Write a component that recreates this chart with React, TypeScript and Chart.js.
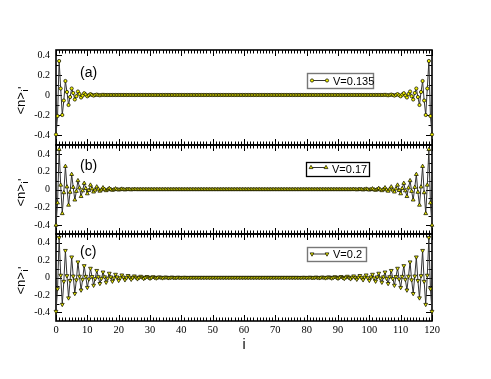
import React, { useEffect, useRef } from "react";
import { Chart, registerables } from "chart.js";
import { drawPoint } from "chart.js/helpers";

Chart.register(...registerables);

const W = 491;
const H = 379;

// ---- data ----
const siteStep = 0.5;
const xTickValues = [0, 10, 20, 30, 40, 50, 60, 70, 80, 90, 100, 110, 120];
const yTickValues = [-0.4, -0.2, 0, 0.2, 0.4];
const yMinorValues = [-0.3, -0.1, 0.1, 0.3];
const panelLabels = ["(a)", "(b)", "(c)"];
const seriesNames = ["V=0.135", "V=0.17", "V=0.2"];
const xAxisLabel = "i";

const valuesA = [
  -0.395, -0.21, 0.34, 0.065, -0.2, -0.055, 0.14, 0.03, -0.1, -0.02,
  0.065, 0.02, -0.045, -0.012, 0.035, 0.01, -0.025, -0.006, 0.018, 0.004,
  -0.013, -0.002, 0.009, 0.001, -0.006, 0, 0.004, 0, -0.003, 0,
  0.002, 0, 0, 0, 0, 0, 0, 0, 0, 0,
  0, 0, 0, 0, 0, 0, 0, 0, 0, 0, 0, 0, 0, 0, 0, 0, 0, 0, 0, 0,
  0, 0, 0, 0, 0, 0, 0, 0, 0, 0, 0, 0, 0, 0, 0, 0, 0, 0, 0, 0,
  0, 0, 0, 0, 0, 0, 0, 0, 0, 0, 0, 0, 0, 0, 0, 0, 0, 0, 0, 0,
  0, 0, 0, 0, 0, 0, 0, 0, 0, 0, 0, 0, 0, 0, 0, 0, 0, 0, 0, 0,
  0, 0, 0, 0, 0, 0, 0, 0, 0, 0, 0, 0, 0, 0, 0, 0, 0, 0, 0, 0,
  0, 0, 0, 0, 0, 0, 0, 0, 0, 0, 0, 0, 0, 0, 0, 0, 0, 0, 0, 0,
  0, 0, 0, 0, 0, 0, 0, 0, 0, 0, 0, 0, 0, 0, 0, 0, 0, 0, 0, 0,
  0, 0, 0, 0, 0, 0, 0, 0, 0, 0, 0, 0, 0, 0, 0, 0, 0, 0, 0, 0,
  0, 0, 0, 0, 0, 0, 0, 0, 0, 0,
  0.002, 0, -0.003, 0, 0.004, 0, -0.006, 0.001, 0.009, -0.002,
  -0.013, 0.004, 0.018, -0.006, -0.025, 0.01, 0.035, -0.012, -0.045, 0.02,
  0.065, -0.02, -0.1, 0.03, 0.14, -0.055, -0.2, 0.065, 0.34, -0.21,
  -0.395,
];

const valuesB = [
  -0.4, -0.15, 0.45, 0.05, -0.27, -0.035, 0.26, 0.03, -0.175, -0.03,
  0.17, 0.025, -0.117, -0.02, 0.1, 0.018, -0.078, -0.014, 0.07, 0.012,
  -0.047, -0.01, 0.05, 0.008, -0.027, -0.006, 0.03, 0.005, -0.018, -0.004,
  0.02, 0.003, -0.012, -0.002, 0.013, 0.002, -0.008, -0.001, 0.008, 0.001,
  -0.005, 0, 0.005, 0, -0.003, 0, 0.003, 0, -0.002, 0,
  0.002, 0, 0, 0, 0, 0, 0, 0, 0, 0,
  0, 0, 0, 0, 0, 0, 0, 0, 0, 0, 0, 0, 0, 0, 0, 0, 0, 0, 0, 0,
  0, 0, 0, 0, 0, 0, 0, 0, 0, 0, 0, 0, 0, 0, 0, 0, 0, 0, 0, 0,
  0, 0, 0, 0, 0, 0, 0, 0, 0, 0, 0, 0, 0, 0, 0, 0, 0, 0, 0, 0,
  0, 0, 0, 0, 0, 0, 0, 0, 0, 0, 0, 0, 0, 0, 0, 0, 0, 0, 0, 0,
  0, 0, 0, 0, 0, 0, 0, 0, 0, 0, 0, 0, 0, 0, 0, 0, 0, 0, 0, 0,
  0, 0, 0, 0, 0, 0, 0, 0, 0, 0, 0, 0, 0, 0, 0, 0, 0, 0, 0, 0,
  0, 0, 0, 0, 0, 0, 0, 0, 0, 0,
  0.002, 0, -0.002, 0, 0.003, 0, -0.003, 0, 0.005, 0,
  -0.005, 0.001, 0.008, -0.001, -0.008, 0.002, 0.013, -0.002, -0.012, 0.003,
  0.02, -0.004, -0.018, 0.005, 0.03, -0.006, -0.027, 0.008, 0.05, -0.01,
  -0.047, 0.012, 0.07, -0.014, -0.078, 0.018, 0.1, -0.02, -0.117, 0.025,
  0.17, -0.03, -0.175, 0.03, 0.26, -0.035, -0.27, 0.05, 0.45, -0.15,
  -0.4,
];

const valuesC = [
  -0.39, -0.13, 0.46, 0.025, -0.31, -0.045, 0.31, 0.02, -0.235, -0.035,
  0.235, 0.016, -0.185, -0.028, 0.178, 0.014, -0.145, -0.022, 0.135, 0.012,
  -0.115, -0.018, 0.105, 0.01, -0.09, -0.014, 0.08, 0.008, -0.07, -0.011,
  0.062, 0.007, -0.055, -0.009, 0.048, 0.006, -0.043, -0.007, 0.036, 0.005,
  -0.034, -0.005, 0.028, 0.004, -0.027, -0.004, 0.022, 0.003, -0.021, -0.003,
  0.017, 0.002, -0.016, -0.002, 0.013, 0.002, -0.012, -0.001, 0.01, 0.001,
  -0.009, 0, 0.008, 0, -0.007, 0, 0.006, 0, -0.005, 0,
  0.004, 0, -0.004, 0, 0.003, 0, -0.003, 0, 0.002, 0,
  -0.002, 0, 0.001, 0, -0.001, 0, 0, 0, 0, 0,
  0, 0, 0, 0, 0, 0, 0, 0, 0, 0, 0, 0, 0, 0, 0, 0, 0, 0, 0, 0,
  0, 0, 0, 0, 0, 0, 0, 0, 0, 0, 0, 0, 0, 0, 0, 0, 0, 0, 0, 0,
  0, 0, 0, 0, 0, 0, 0, 0, 0, 0, 0, 0, 0, 0, 0, 0, 0, 0, 0, 0,
  0, 0, 0, 0, 0, 0, -0.001, 0, 0.001, 0,
  -0.002, 0, 0.002, 0, -0.003, 0, 0.003, 0, -0.004, 0,
  0.004, 0, -0.005, 0, 0.006, 0, -0.007, 0, 0.008, 0,
  -0.009, 0.001, 0.01, -0.001, -0.012, 0.002, 0.013, -0.002, -0.016, 0.002,
  0.017, -0.003, -0.021, 0.003, 0.022, -0.004, -0.027, 0.004, 0.028, -0.005,
  -0.034, 0.005, 0.036, -0.007, -0.043, 0.006, 0.048, -0.009, -0.055, 0.007,
  0.062, -0.011, -0.07, 0.008, 0.08, -0.014, -0.09, 0.01, 0.105, -0.018,
  -0.115, 0.012, 0.135, -0.022, -0.145, 0.014, 0.178, -0.028, -0.185, 0.016,
  0.235, -0.035, -0.235, 0.02, 0.31, -0.045, -0.31, 0.025, 0.46, -0.13,
  -0.39,
];

// ---- layout / style ----
const plotLeft = 56;
const plotRight = 432;
const xMax = 120;
const xMinorStep = 1;
const majorLen = 6;
const minorLen = 3.5;
const lineColor = "#333";
const markerFill = "#f2f200";
const markerEdge = "#1a1a00";
const sans = '"Liberation Sans", Arial, sans-serif';
const serif = "Liberation Serif";

const panels = [
  {
    values: valuesA, name: seriesNames[0], label: panelLabels[0],
    top: 50, bottom: 145, yMin: -0.5, yMax: 0.45,
    pointStyle: "circle", rotation: 0, radius: 1.6,
    labelX: 80, labelY: 77,
    legend: { x: 307, y: 73, w: 66, h: 15, color: "#777", width: 1.4, lineDy: 7.5 },
  },
  {
    values: valuesB, name: seriesNames[1], label: panelLabels[1],
    top: 145, bottom: 234, yMin: -0.5, yMax: 0.5,
    pointStyle: "triangle", rotation: 0, radius: 2.2,
    labelX: 80, labelY: 170,
    legend: { x: 306, y: 162, w: 63, h: 14, color: "#000", width: 1.3, lineDy: 5.5 },
  },
  {
    values: valuesC, name: seriesNames[2], label: panelLabels[2],
    top: 234, bottom: 321, yMin: -0.5, yMax: 0.5,
    pointStyle: "triangle", rotation: 180, radius: 2.2,
    labelX: 80, labelY: 256,
    legend: { x: 307, y: 247, w: 59, h: 14, color: "#777", width: 1.4, lineDy: 7 },
  },
];

function makeDecor(p: any, isBottom: boolean) {
  return {
    id: "decor",
    beforeDatasetsDraw(chart: any) {
      const { ctx, chartArea: a } = chart;
      const xs = chart.scales.x;
      const ys = chart.scales.y;
      ctx.save();
      ctx.strokeStyle = "#000";
      ctx.lineWidth = 1;
      ctx.beginPath();
      for (let v = 0; v <= xMax; v += xMinorStep) {
        const px = Math.round(xs.getPixelForValue(v)) + 0.5;
        const len = xTickValues.includes(v) ? majorLen : minorLen;
        ctx.moveTo(px, a.top);
        ctx.lineTo(px, a.top + len);
        ctx.moveTo(px, a.bottom);
        ctx.lineTo(px, a.bottom - len);
      }
      const yAll: [number, number][] = [
        ...yTickValues.map((v) => [v, majorLen] as [number, number]),
        ...yMinorValues.map((v) => [v, minorLen] as [number, number]),
      ];
      for (const [v, len] of yAll) {
        if (v <= p.yMin || v >= p.yMax) continue;
        const py = Math.round(ys.getPixelForValue(v)) + 0.5;
        ctx.moveTo(a.left, py);
        ctx.lineTo(a.left + len, py);
        ctx.moveTo(a.right, py);
        ctx.lineTo(a.right - len, py);
      }
      ctx.stroke();
      ctx.lineWidth = 1.6;
      ctx.strokeRect(a.left, a.top, a.right - a.left, a.bottom - a.top);
      ctx.restore();
    },
    afterDraw(chart: any) {
      const { ctx, chartArea: a } = chart;
      ctx.save();
      // panel label
      ctx.fillStyle = "#000";
      ctx.font = `14px ${sans}`;
      ctx.textAlign = "left";
      ctx.textBaseline = "alphabetic";
      ctx.fillText(p.label, p.labelX, p.labelY);

      // legend box
      const L = p.legend;
      ctx.fillStyle = "#fff";
      ctx.fillRect(L.x, L.y, L.w, L.h);
      ctx.strokeStyle = L.color;
      ctx.lineWidth = L.width;
      ctx.strokeRect(L.x + 0.5, L.y + 0.5, L.w, L.h);
      const ly = L.y + L.lineDy;
      ctx.strokeStyle = lineColor;
      ctx.lineWidth = 1;
      ctx.beginPath();
      ctx.moveTo(L.x + 5, ly);
      ctx.lineTo(L.x + 20, ly);
      ctx.stroke();
      ctx.fillStyle = markerFill;
      ctx.strokeStyle = markerEdge;
      ctx.lineWidth = 0.8;
      const opts = { pointStyle: p.pointStyle, rotation: p.rotation, radius: p.radius, borderWidth: 0.8 };
      drawPoint(ctx, opts, L.x + 5, ly);
      drawPoint(ctx, opts, L.x + 20, ly);
      ctx.fillStyle = "#000";
      ctx.font = `11px ${sans}`;
      ctx.textBaseline = "middle";
      ctx.textAlign = "left";
      ctx.fillText(p.name, L.x + 26, L.y + L.h / 2 + 1);

      // y axis title  <n>_i'
      const mid = (a.top + a.bottom) / 2;
      ctx.save();
      ctx.translate(25, mid + 17);
      ctx.rotate(-Math.PI / 2);
      ctx.textBaseline = "alphabetic";
      ctx.font = `13px ${sans}`;
      ctx.fillText("<n>", 0, 0);
      const w = ctx.measureText("<n>").width;
      ctx.font = `9px ${sans}`;
      ctx.fillText("i", w + 0.5, 3);
      ctx.font = `13px ${sans}`;
      ctx.fillText("'", w + 3, 1.5);
      ctx.restore();

      if (isBottom) {
        ctx.font = `14px ${sans}`;
        ctx.textAlign = "center";
        ctx.textBaseline = "alphabetic";
        ctx.fillText(xAxisLabel, (a.left + a.right) / 2, 349);
      }
      ctx.restore();
    },
  };
}

function buildConfig(p: any, isBottom: boolean): any {
  return {
    type: "line",
    data: {
      datasets: [
        {
          data: p.values.map((v: number, k: number) => ({ x: k * siteStep, y: v })),
          borderColor: lineColor,
          borderWidth: 1,
          pointStyle: p.pointStyle,
          pointRotation: p.rotation,
          pointRadius: p.radius,
          pointBackgroundColor: markerFill,
          pointBorderColor: markerEdge,
          pointBorderWidth: 0.8,
          tension: 0,
          fill: false,
          clip: false,
        },
      ],
    },
    options: {
      responsive: false,
      animation: false,
      devicePixelRatio: 1,
      events: [],
      layout: {
        padding: { left: 0, right: W - plotRight, top: p.top, bottom: isBottom ? 0 : H - p.bottom },
      },
      plugins: { legend: { display: false }, tooltip: { enabled: false }, title: { display: false } },
      scales: {
        x: {
          type: "linear",
          min: 0,
          max: xMax,
          display: isBottom,
          grid: { display: false, drawTicks: false },
          border: { display: false },
          ticks: {
            color: "#000",
            font: { family: serif, size: 10.5 },
            padding: 3,
            maxRotation: 0,
            autoSkip: false,
            callback: (v: number) => String(v),
          },
          afterBuildTicks: (s: any) => {
            s.ticks = xTickValues.map((v) => ({ value: v }));
          },
          afterFit: (s: any) => {
            s.height = isBottom ? H - p.bottom : 0;
            s.paddingLeft = 0;
            s.paddingRight = 0;
          },
        },
        y: {
          type: "linear",
          min: p.yMin,
          max: p.yMax,
          grid: { display: false, drawTicks: false },
          border: { display: false },
          ticks: {
            color: "#000",
            font: { family: serif, size: 10 },
            padding: 6,
            autoSkip: false,
            callback: (v: number) => String(Math.round(v * 10) / 10),
          },
          afterBuildTicks: (s: any) => {
            s.ticks = yTickValues.map((v) => ({ value: v }));
          },
          afterFit: (s: any) => {
            s.width = plotLeft;
            s.paddingTop = 0;
            s.paddingBottom = 0;
          },
        },
      },
    },
    plugins: [makeDecor(p, isBottom)],
  };
}

export default function App() {
  const r0 = useRef<HTMLCanvasElement>(null);
  const r1 = useRef<HTMLCanvasElement>(null);
  const r2 = useRef<HTMLCanvasElement>(null);
  const refs = [r0, r1, r2];

  useEffect(() => {
    const charts = panels.map(
      (p, i) => new Chart(refs[i].current as HTMLCanvasElement, buildConfig(p, i === panels.length - 1))
    );
    return () => charts.forEach((c) => c.destroy());
  }, []);

  return (
    <div style={{ position: "absolute", left: 0, top: 0, width: W, height: H, background: "#fff" }}>
      {panels.map((p, i) => (
        <canvas
          key={i}
          ref={refs[i]}
          width={W}
          height={H}
          style={{ position: "absolute", left: 0, top: 0, width: W, height: H }}
        />
      ))}
    </div>
  );
}
